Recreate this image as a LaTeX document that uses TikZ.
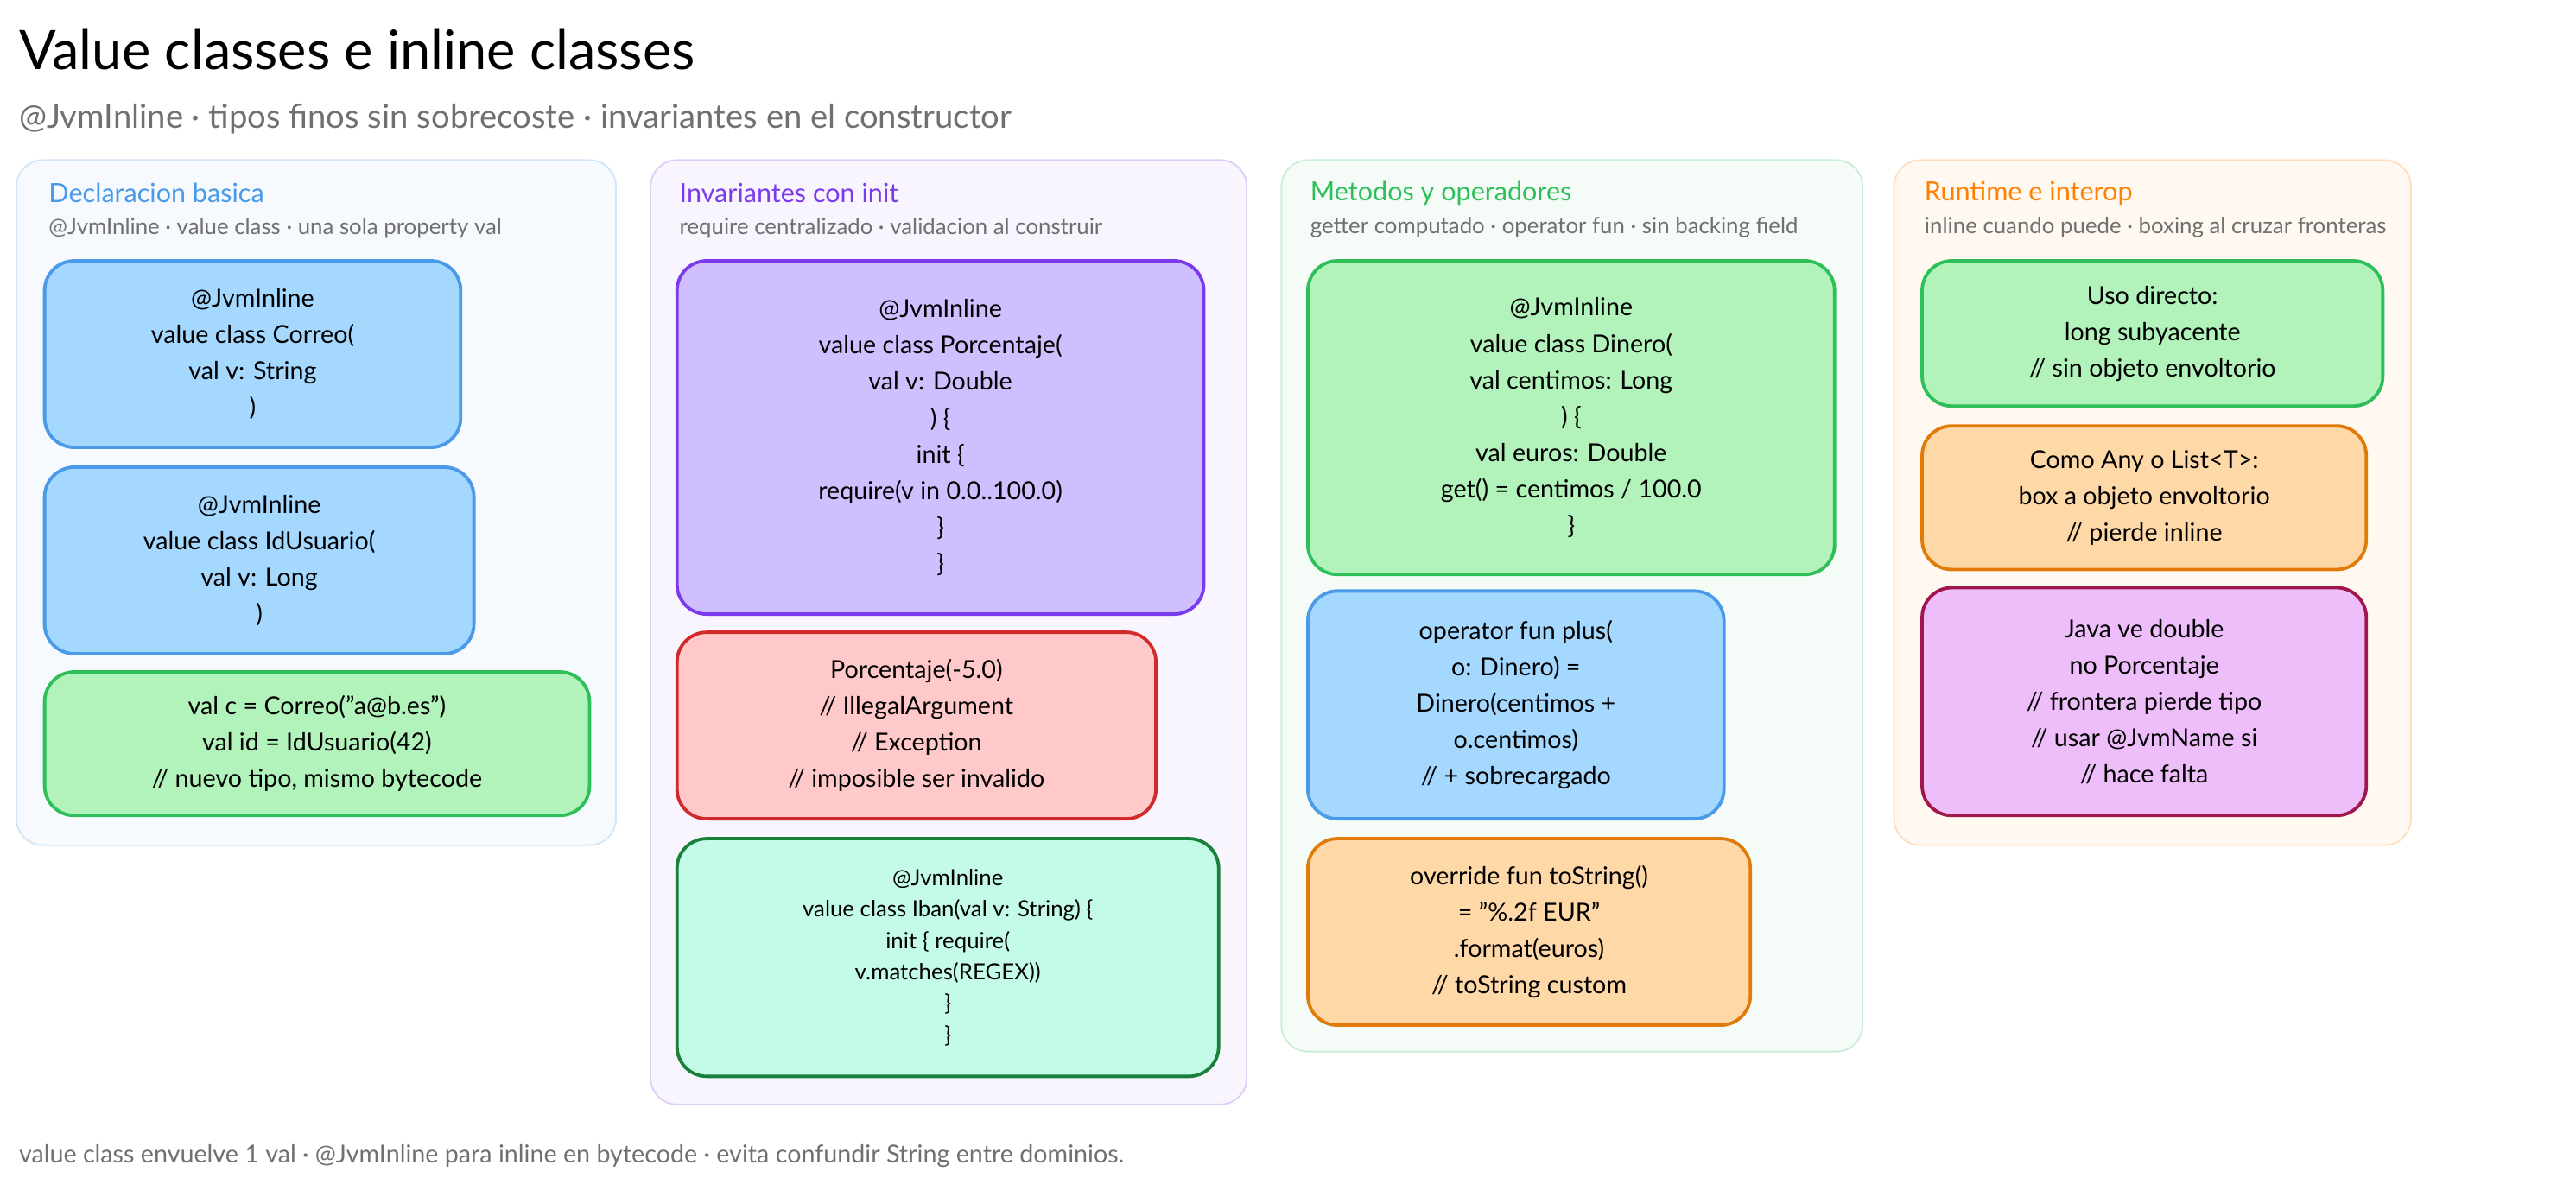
\documentclass[tikz,border=0pt]{standalone}
\usepackage{fontspec}
\setmainfont{Lato}
\definecolor{inkgray}{HTML}{707070}
\definecolor{bluefill}{HTML}{A5D8FF}
\definecolor{blueline}{HTML}{4A9AE8}
\definecolor{greenfill}{HTML}{B2F2BB}
\definecolor{greenline}{HTML}{2FBF5A}
\definecolor{purplefill}{HTML}{D0BFFF}
\definecolor{purpleline}{HTML}{7C3AED}
\definecolor{redfill}{HTML}{FFC9C9}
\definecolor{redline}{HTML}{D02A2A}
\definecolor{tealfill}{HTML}{C3FAE8}
\definecolor{tealline}{HTML}{188038}
\definecolor{orangefill}{HTML}{FFD8A8}
\definecolor{orangeline}{HTML}{E07B0A}
\definecolor{pinkfill}{HTML}{EEBEFA}
\definecolor{pinkline}{HTML}{A0174D}
\tikzset{
  panel/.style={draw=#1!25, fill=#1!5, line width=1pt, rounded corners=16pt},
  box/.style n args={2}{draw=#2, fill=#1, line width=2pt, rounded corners=18pt,
    align=center, font=\fontsize{15}{22}\selectfont, inner sep=0pt},
  head/.style={anchor=west, font=\fontsize{16}{18}\selectfont, text=#1},
  sub/.style={anchor=west, font=\fontsize{13.5}{15}\selectfont, text=inkgray},
}
\begin{document}
\begin{tikzpicture}[x=1pt, y=-1pt]
    \useasboundingbox (0,0) rectangle (1560,717);

    % Title
    \node[anchor=west, font=\fontsize{33}{36}\selectfont] (title) at (8,30) {Value classes e inline classes};
    \node[anchor=west, font=\fontsize{20}{22}\selectfont, text=inkgray] (subtitle) at (8,72)
        {@JvmInline · tipos finos sin sobrecoste · invariantes en el constructor};

    % Panels
    \draw[panel=blueline] (10,97) rectangle (373,512);
    \draw[panel=purpleline] (394,97) rectangle (755,669);
    \draw[panel=greenline] (776,97) rectangle (1128,637);
    \draw[panel=orange] (1147,97) rectangle (1460,512);

    \node[head=blueline] (h1) at (26,117) {Declaracion basica};
    \node[sub] (s1) at (26,138) {@JvmInline · value class · una sola property val};
    \node[head=purpleline] (h2) at (408,117) {Invariantes con init};
    \node[sub] (s2) at (408,138) {require centralizado · validacion al construir};
    \node[head=greenline] (h3) at (790,117) {Metodos y operadores};
    \node[sub] (s3) at (790,138) {getter computado · operator fun · sin backing field};
    \node[head=orange] (h4) at (1162,117) {Runtime e interop};
    \node[sub] (s4) at (1162,138) {inline cuando puede · boxing al cruzar fronteras};

    % Declaracion basica
    \node[box={bluefill}{blueline}, minimum width=252pt, minimum height=113pt] (correo) at (153,214.5)
        {@JvmInline\\value class Correo(\\val v: String\\)};
    \node[box={bluefill}{blueline}, minimum width=260pt, minimum height=113pt] (idusuario) at (157,339.5)
        {@JvmInline\\value class IdUsuario(\\val v: Long\\)};
    \node[box={greenfill}{greenline}, minimum width=330pt, minimum height=87pt] (uso) at (192,450.5)
        {val c = Correo("a@b.es")\\val id = IdUsuario(42)\\// nuevo tipo, mismo bytecode};

    % Invariantes con init
    \node[box={purplefill}{purpleline}, minimum width=319pt, minimum height=214pt] (porcentaje) at (569.5,265)
        {@JvmInline\\value class Porcentaje(\\val v: Double\\) \{\\init \{\\require(v in 0.0..100.0)\\\}\\\}};
    \node[box={redfill}{redline}, minimum width=290pt, minimum height=113pt] (error) at (555,439.5)
        {Porcentaje(-5.0)\\// IllegalArgument\\// Exception\\// imposible ser invalido};
    \node[box={tealfill}{tealline}, minimum width=328pt, minimum height=144pt,
        font=\fontsize{13.5}{19}\selectfont] (iban) at (574,580)
        {@JvmInline\\value class Iban(val v: String) \{\\init \{ require(\\v.matches(REGEX))\\\}\\\}};

    % Metodos y operadores
    \node[box={greenfill}{greenline}, minimum width=319pt, minimum height=190pt] (dinero) at (951.5,253)
        {@JvmInline\\value class Dinero(\\val centimos: Long\\) \{\\val euros: Double\\get() = centimos / 100.0\\\}};
    \node[box={bluefill}{blueline}, minimum width=252pt, minimum height=138pt] (plus) at (918,427)
        {operator fun plus(\\o: Dinero) =\\Dinero(centimos +\\o.centimos)\\// + sobrecargado};
    \node[box={orangefill}{orangeline}, minimum width=268pt, minimum height=113pt] (tostring) at (926,564.5)
        {override fun toString()\\= "\%.2f EUR"\\.format(euros)\\// toString custom};

    % Runtime e interop
    \node[box={greenfill}{greenline}, minimum width=279pt, minimum height=88pt] (directo) at (1303.5,202)
        {Uso directo:\\long subyacente\\// sin objeto envoltorio};
    \node[box={orangefill}{orangeline}, minimum width=269pt, minimum height=87pt] (boxing) at (1298.5,301.5)
        {Como Any o List<T>:\\box a objeto envoltorio\\// pierde inline};
    \node[box={pinkfill}{pinkline}, minimum width=269pt, minimum height=138pt] (java) at (1298.5,425)
        {Java ve double\\no Porcentaje\\// frontera pierde tipo\\// usar @JvmName si\\// hace falta};

    % Footer
    \node[anchor=west, font=\fontsize{15}{17}\selectfont, text=inkgray] (footer) at (8,700)
        {value class envuelve 1 val · @JvmInline para inline en bytecode · evita confundir String entre dominios.};

\end{tikzpicture}
\end{document}
